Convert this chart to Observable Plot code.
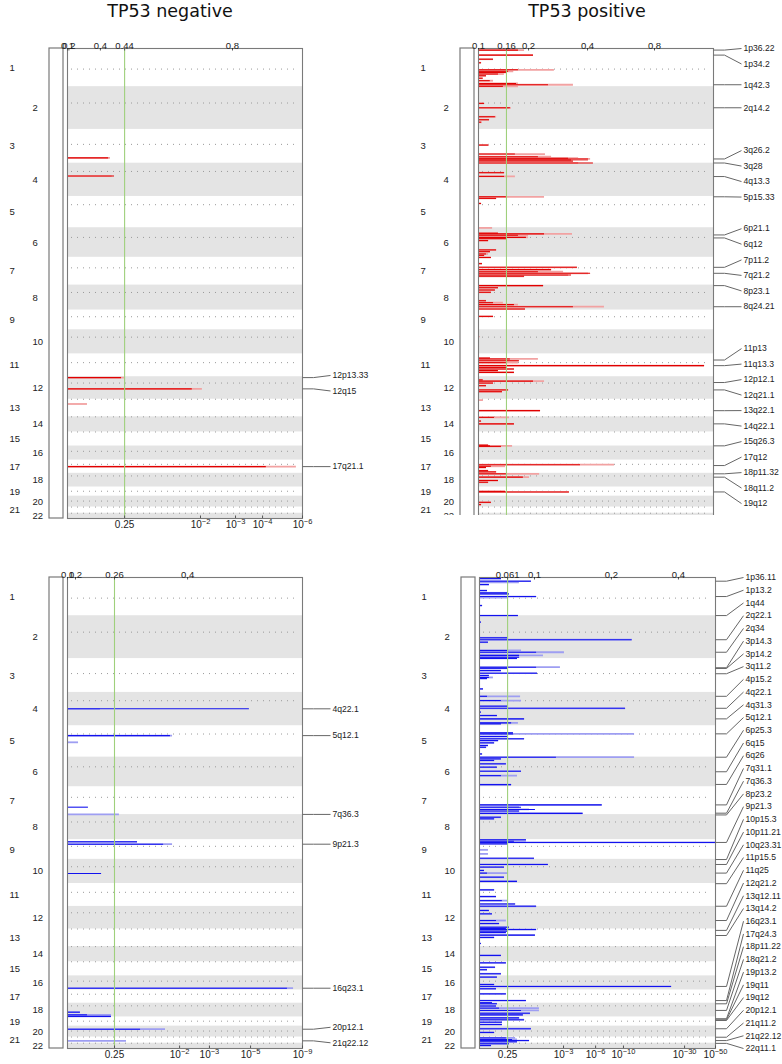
<!DOCTYPE html>
<html><head><meta charset="utf-8">
<script src="https://cdn.jsdelivr.net/npm/d3@7"></script>
<script src="https://cdn.jsdelivr.net/npm/@observablehq/plot@0.6"></script>
<style>
body{margin:0;background:#fff;}
#root{position:relative;width:782px;height:1064px;overflow:hidden;background:#fff;}
.panel{position:absolute;}
.panel svg{overflow:visible;display:block;}
.title{position:absolute;top:0;font-family:"DejaVu Sans",sans-serif;font-size:17.5px;color:#111;transform:translateX(-50%);white-space:nowrap;line-height:22px;}
</style></head><body><div id="root"></div>
<script>
// ---------- chromosome layout (effective lengths, Mb) ----------
const chromosomes = ["1","2","3","4","5","6","7","8","9","10","11","12","13","14","15","16","17","18","19","20","21","22"];
const chromLength = [217,243,192,189,178,168,158,142,112,137,130,128,100,86,80,80,75,78,52,62,35,30];
const centromere  = [117,93,85,47,47,55,60,42,38,42,50,36,0,0,0,30,24,15,24,28,0,0];

// ---------- TP53 negative, amplifications: [chrom, position, q-value bar, G-score bar] ----------
const negAmpSegments = [
  [3,162,17.5,18.3],[4,73,20.0,19.0],[12,5,23.0,24.3],[12,69,53.1,57.4],[13,27,0,8.5],[17,37,84.6,97.4]
];
const negAmpLabels = [["12p13.33",12,5],["12q15",12,69],["17q21.1",17,37]];
const negAmpTopTicks = [["0.1",0],["0.2",0.6],["0.4",14.0],["0.44",24.3],["0.8",70.2]];
const negAmpBottomTicks = [["0.25",24.3],["10\u207B\u00B2",56.6],["10\u207B\u00B3",71.5],["10\u207B\u2074",83.0],["10\u207B\u2076",100]];

// ---------- TP53 positive, amplifications ----------
const posAmpSegments = [
  [1,9,17.0,19.6],[1,37.5,23.4,23.4],[1,61,6.4,6.4],[1,81,1.3,1.3],[1,121,17.0,32.3],[1,129.5,12.8,15.0],
  [1,136,11.9,11.9],[1,145,8.5,11.0],[1,155,3.4,3.4],[1,169,2.0,2.0],[1,183,5.0,6.4],[1,199,16.2,17.0],
  [1,206,29.8,40.4],[1,215,10.6,17.0],
  [2,95,2.6,2.6],[2,120,13.6,14.0],[2,171,7.2,7.7],[2,188,4.7,4.7],[2,202,1.3,1.7],
  [3,89,4.3,4.7],[3,140,15.7,28.5],[3,155,25.5,31.1],[3,164,38.3,42.6],[3,168,46.8,47.7],[3,174,39.6,46.8],
  [3,180,40.4,40.4],[3,191,48.9,42.6],
  [4,54,11.1,11.1],[4,75,11.1,15.7],
  [5,2,11.9,28.1],[5,11,7.7,7.7],[5,40,1.3,1.3],
  [6,1,0,6.0],[6,31,8.5,8.5],[6,35,28.1,40.0],[6,43,17.0,21.3],[6,55,20.4,21.3],[6,62,11.9,11.9],[6,73,4.3,4.3],
  [6,126,7.7,7.7],[6,136,5.1,5.1],[6,149,3.4,4.3],[6,157,2.6,2.6],
  [7,1,5.5,5.5],[7,36,1.7,1.7],[7,57,42.1,42.1],[7,70,31.1,31.1],[7,82,25.5,36.2],[7,91,47.7,46.8],
  [7,101,39.6,38.3],[7,108,19.6,19.6],
  [8,3,27.7,27.7],[8,15,8.5,8.5],[8,28,7.2,7.2],[8,41,5.5,5.5],[8,89,3.4,3.4],[8,100,6.4,10.6],[8,111,15.3,17.0],
  [8,123,40.4,53.6],[8,136,20.0,20.0],
  [9,36,6.4,6.4],[10,39,0.5,0.5],
  [11,24,5.1,5.1],[11,29,13.6,25.5],[11,39,17.4,17.4],[11,50,11.9,17.0],[11,67,96.2,96.2],[11,77,11.9,11.9],
  [11,86,15.3,15.3],[11,95,8.5,8.5],[11,105,15.3,15.3],
  [12,18,2.0,2.0],[12,25,23.4,28.1],[12,36,6.4,6.4],[12,51,3.4,3.4],[12,75,12.8,12.8],[12,85,10.2,10.2],
  [13,5,0,2.1],[13,65,26.4,26.4],
  [14,3,6.8,13.2],[14,24,1.3,1.3],[14,40,15.3,15.3],
  [15,75,4.3,4.3],[15,79,5.1,14.5],[16,2,9.8,9.8],
  [17,26,43.4,57.9],[17,35,5.5,11.5],[17,42,3.4,3.4],[17,60,4.3,4.3],[17,67,7.7,7.7],
  [18,3,11.9,26.0],[18,22,19.1,21.7],[18,41,8.5,8.5],[18,51,4.3,4.3],
  [19,25,11.5,11.5],[19,28,38.7,38.7],
  [20,35,5.5,5.5],[20,48,1.3,1.3]
];
const posAmpLabels = [
  ["1p36.22",1,9],["1p34.2",1,37.5],["1q42.3",1,206],["2q14.2",2,120],["3q26.2",3,168],["3q28",3,191],
  ["4q13.3",4,76],["5p15.33",5,2],["6p21.1",6,41],["6q12",6,58],["7p11.2",7,57],["7q21.2",7,91],
  ["8p23.1",8,3],["8q24.21",8,123],["11p13",11,35],["11q13.3",11,67],["12p12.1",12,33],["12q21.1",12,75],
  ["13q22.1",13,65],["14q22.1",14,40],["15q26.3",15,79],["17q12",17,31],["18p11.32",18,3],["18q11.2",18,22],
  ["19q12",19,28]
];
const posAmpTopTicks = [["0.1",0],["0.16",11.9],["0.2",21.3],["0.4",46.4],["0.8",74.9]];
const posAmpBottomTicks = [["0.25",11.9]];

// ---------- TP53 negative, deletions ----------
const negDelSegments = [
  [4,93,77.4,14.0],[5,56,43.8,44.7],[5,94,0,4.7],[7,116,8.9,0],[7,157,0,22.1],[9,12.5,29.8,29.8],
  [9,26,40.9,44.7],[10,80,14.5,0],[16,70,93.6,96.2],[18,51,5.5,5.5],[18,66,8.5,18.7],[18,75,18.7,18.7],
  [20,17.6,31.1,41.7],[21,21.6,0,25.1]
];
const negDelLabels = [["4q22.1",4,93],["5q12.1",5,56],["7q36.3",7,157],["9p21.3",9,26],["16q23.1",16,70],["20p12.1",20,17.6],["21q22.12",21,21.6]];
const negDelTopTicks = [["0.1",0],["0.2",3.4],["0.26",20.0],["0.4",51.1]];
const negDelBottomTicks = [["0.25",20.0],["10\u207B\u00B2",47.7],["10\u207B\u00B3",60.4],["10\u207B\u2075",77.9],["10\u207B\u2079",100]];

// ---------- TP53 positive, deletions ----------
const posDelSegments = [
  [1,6,9.3,9.3],[1,21,22.0,22.0],[1,28,0,16.9],[1,40,4.2,4.2],[1,74,3.4,3.4],[1,87,11.9,11.9],[1,93,12.7,12.7],
  [1,108,24.2,24.2],[1,114,0,12.3],[1,159,1.3,1.3],[1,216,16.5,16.5],
  [2,36,0.8,0.8],[2,125,12.3,12.3],[2,136,64.7,64.7],[2,150,3.8,3.8],[2,197,11.9,17.8],[2,207,24.2,36.0],
  [2,225,17.0,27.1],[2,235,17.0,17.0],[2,242,16.1,16.1],
  [3,49,24.2,34.3],[3,55,12.3,12.3],[3,68,9.3,9.3],[3,83,24.6,24.6],[3,96,4.2,4.2],[3,107,4.2,5.9],[3,113,3.4,3.4],[3,172,1.7,1.7],
  [4,22,3.4,17.4],[4,46,9.3,17.8],[4,78,12.3,12.3],[4,90,61.9,61.9],[4,112,0.8,0.8],[4,131,7.6,7.6],[4,150,19.1,19.1],
  [4,173,13.6,16.5],[4,178,9.3,9.3],
  [5,40,14.4,14.4],[5,46,14.4,65.7],[5,61,11.9,11.9],[5,74,19.1,19.1],[5,84,8.1,8.1],[5,97,6.4,6.4],[5,112,3.8,3.8],
  [5,122,3.0,3.0],[5,160,1.3,1.3],
  [6,0.5,32.6,65.7],[6,10,9.3,9.3],[6,19,6.4,6.4],[6,38,11.4,11.4],[6,57,7.6,7.6],[6,80,17.8,17.8],[6,105,9.3,16.1],[6,156,13.6,13.6],
  [7,103,52.0,52.0],[7,116,17.8,17.0],[7,129,23.7,21.2],[7,138,17.0,17.0],[7,151,43.9,43.9],
  [8,15,9.3,9.3],[8,24,6.4,6.4],
  [9,1,19.9,19.9],[9,9,14.8,19.9],[9,16,100,100],[9,24,12.3,12.3],[9,58,0,3.8],[9,81,0,3.8],[9,106,23.3,23.3],
  [10,29,29.2,29.2],[10,44,10.6,10.6],[10,63,2.1,2.1],[10,78,3.4,12.3],[10,101,10.6,10.6],[10,125,16.1,16.1],
  [11,36,6.4,6.4],[11,74,7.2,7.2],[11,97,9.7,11.9],[11,116,15.3,15.3],[11,129,24.2,24.2],
  [12,23,4.2,4.2],[12,42,5.5,5.5],[12,80,7.2,11.4],[12,97,8.5,8.5],[12,118,12.7,12.7],[12,125,11.4,11.4],
  [13,3,24.2,24.2],[13,12,11.9,11.9],[13,20,11.4,11.4],[13,35,23.7,23.7],[13,48,6.4,6.4],[13,82,0.8,0.8],
  [14,50,9.3,9.3],
  [15,6,11.4,11.4],[15,31,6.8,6.8],[15,45,3.4,3.4],[15,68,9.3,9.3],
  [16,7,7.6,7.6],[16,49,6.4,6.4],[16,60,81.4,81.4],[16,73,7.2,7.2],
  [17,22,11.4,11.4],[17,60,19.9,19.9],[17,72,5.5,5.5],
  [18,3,7.6,7.6],[18,16,7.2,7.2],[18,28,8.5,25.4],[18,41,17.8,25.4],[18,57,21.6,21.6],[18,66,18.6,18.6],
  [19,5,17.0,17.0],[19,16,19.1,19.1],[19,30,9.7,9.7],[19,43,9.7,9.7],
  [20,15,22.0,22.0],[20,36,6.4,6.4],
  [21,5,11.4,15.3],[21,14,14.0,16.1],[21,20,21.2,21.2],[21,27,16.1,16.1],
  [22,3,12.7,12.7],[22,13,5.1,5.1]
];
const posDelLabels = [
  ["1p36.11",1,21],["1p13.2",1,108],["1q44",1,216],["2q22.1",2,136],["2q34",2,207],["3p14.3",3,52],["3p14.2",3,56],
  ["3q11.2",3,86],["4p15.2",4,22],["4q22.1",4,90],["4q31.3",4,150],["5q12.1",5,46],["6p25.3",6,0.5],["6q15",6,83],
  ["6q26",6,155],["7q31.1",7,103],["7q36.3",7,150],["8p23.2",8,2],["9p21.3",9,16],["10p15.3",10,1],["10p11.21",10,29],
  ["10q23.31",10,78],["11p15.5",11,1],["11q25",11,129],["12q21.2",12,80],["13q12.11",13,8],["13q14.2",13,37],
  ["16q23.1",16,60],["17q24.3",17,60],["18p11.22",18,3.4],["18q21.2",18,41],["19p13.2",19,10],["19q11",19,16],
  ["19q12",19,20],["20p12.1",20,15],["21q11.2",21,1],["21q22.12",21,20],["22q11.1",22,1]
];
const posDelTopTicks = [["0.061",11.9],["0.1",23.3],["0.2",55.9],["0.4",84.3]];
const posDelBottomTicks = [["0.25",11.9],["10\u207B\u00B3",35.6],["10\u207B\u2076",49.2],["10\u207B\u00B9\u2070",61.0],["10\u207B\u00B3\u2070",86.9],["10\u207B\u2075\u2070",100]];

// ---------- derived tables ----------
const chrStart = d3.cumsum([0, ...chromLength.slice(0, -1)]);
const total = d3.sum(chromLength);
const chromTable = chromosomes.map((name, i) => ({
  name, start: chrStart[i], end: chrStart[i] + chromLength[i],
  mid: chrStart[i] + chromLength[i] / 2, cen: chrStart[i] + centromere[i], odd: i % 2 === 0
}));

function layoutLabels(peaks, lo, hi, maxGap) {
  const n = peaks.length;
  const order = d3.range(n).sort((a, b) => peaks[a] - peaks[b]);
  const gap = n > 1 ? Math.min(maxGap, (hi - lo) / (n - 1)) : maxGap;
  const place = c => {
    const k = c.members.length;
    let s = c.sum / k - (k - 1) * gap / 2;
    s = Math.max(lo, Math.min(hi - (k - 1) * gap, s));
    c.start = s;
  };
  const clusters = order.map(i => ({members: [i], sum: peaks[i]}));
  clusters.forEach(place);
  let merged = true;
  while (merged) {
    merged = false;
    for (let j = 0; j < clusters.length - 1; j++) {
      const a = clusters[j], b = clusters[j + 1];
      if (a.start + a.members.length * gap > b.start + 1e-9) {
        a.members = a.members.concat(b.members); a.sum += b.sum; place(a);
        clusters.splice(j + 1, 1); merged = true; break;
      }
    }
  }
  const out = new Array(n);
  clusters.forEach(c => c.members.forEach((m, k) => out[m] = c.start + k * gap));
  return out;
}

function leaderCurve(context) {
  let pts = [];
  return {
    areaStart() {}, areaEnd() {},
    lineStart() { pts = []; },
    point(x, y) { pts.push([+x, +y]); },
    lineEnd() {
      if (pts.length < 2) return;
      const [[x0, y0], [x1, y1]] = pts;
      context.moveTo(x0, y0);
      context.lineTo(x0 + 11, y0);
      context.lineTo(x1 + 28, y1);
    }
  };
}

// turn "10⁻²" style labels into "10" + raised exponent
const SUP = {"\u207B": "\u2212", "\u2070": "0", "\u00B9": "1", "\u00B2": "2", "\u00B3": "3", "\u2074": "4", "\u2075": "5", "\u2076": "6", "\u2077": "7", "\u2078": "8", "\u2079": "9"};
function raiseExponents(svg) {
  svg.querySelectorAll("text").forEach(t => {
    if (t.children.length) return;
    const m = t.textContent.match(/^10([\u207B\u2070\u00B9\u00B2\u00B3\u2074-\u2079]+)$/);
    if (!m) return;
    const exp = [...m[1]].map(ch => SUP[ch]).join("");
    t.textContent = "10";
    const ts = document.createElementNS("http://www.w3.org/2000/svg", "tspan");
    ts.setAttribute("dy", "-4.5");
    ts.setAttribute("font-size", "7.5");
    ts.textContent = exp;
    t.appendChild(ts);
  });
}

const FONT = "Liberation Sans, Arial, sans-serif";

function panel(cfg) {
  const {segments, labels, topTicks, bottomTicks, showBottom = true, dark, light, marginLeft, marginRight, marginTop, marginBottom, height} = cfg;
  const frameH = height - marginTop - marginBottom;
  const segs = segments.map(([c, p, d, l]) => ({g: chrStart[c - 1] + p, dark: d, light: l}));
  const peaks = labels.map(([t, c, p]) => chrStart[c - 1] + p);
  const gapG = 15.5 * total / frameH;
  const ly = layoutLabels(peaks, 0, total, gapG);
  const labs = labels.map(([t], i) => ({text: t, peak: peaks[i], ly: ly[i]}));
  const thresh = bottomTicks[0][1];
  const svg = Plot.plot({
    width: 391, height, marginLeft, marginRight, marginTop, marginBottom,
    style: {fontFamily: FONT, fontSize: "9px", background: "transparent", overflow: "visible"},
    x: {domain: [0, 100], axis: null},
    y: {domain: [0, total], reverse: true, axis: null},
    marks: [
      // ideogram box
      Plot.rect([0], {x1: 0, x2: 0, y1: 0, y2: total, insetLeft: -18, insetRight: 4, fill: "white", stroke: "#7a7a7a", strokeWidth: 1.2}),
      // chromosome bands
      Plot.rect(chromTable.filter(d => !d.odd), {x1: 0, x2: 100, y1: "start", y2: "end", fill: "#e4e4e4"}),
      Plot.ruleY(chromTable, {y: "cen", stroke: "#9a9a9a", strokeDasharray: "1,5", insetLeft: 4, insetRight: 4}),
      // chromosome names
      Plot.text(chromTable.filter(d => d.odd), {y: "mid", text: "name", frameAnchor: "left", dx: -58, fill: "#222", fontSize: 9.5}),
      Plot.text(chromTable.filter(d => !d.odd), {y: "mid", text: "name", frameAnchor: "left", dx: -35, fill: "#222", fontSize: 9.5}),
      // score bars
      Plot.ruleY(segs.filter(d => d.light > 0), {y: "g", x1: 0, x2: "light", stroke: light, strokeWidth: 1.8}),
      Plot.ruleY(segs.filter(d => d.dark > 0), {y: "g", x1: 0, x2: "dark", stroke: dark, strokeWidth: 1.1}),
      // threshold
      Plot.ruleX([thresh], {stroke: "#9fd07c", strokeWidth: 1.1}),
      Plot.ruleX([0], {stroke: dark, strokeOpacity: 0.55, strokeWidth: 1}),
      Plot.frame({stroke: "#7a7a7a", strokeWidth: 1.1}),
      // top axis
      Plot.tickX(topTicks, {x: d => d[1], insetBottom: frameH - 2.5, stroke: "#555"}),
      Plot.text(topTicks, {x: d => d[1], text: d => d[0], frameAnchor: "top", dy: -6.5, fill: "#222", fontSize: 9.5}),
      // bottom axis
      showBottom ? Plot.tickX(bottomTicks, {x: d => d[1], insetTop: frameH - 2.5, stroke: "#555"}) : null,
      showBottom ? Plot.text(bottomTicks, {x: d => d[1], text: d => d[0], frameAnchor: "bottom", dy: 9.5, fill: "#222", fontSize: 10}) : null,
      // peak labels
      Plot.link(labs, {x1: 100, x2: 100, y1: "peak", y2: "ly", curve: leaderCurve, stroke: "#666", strokeWidth: 1}),
      Plot.text(labs, {y: "ly", text: "text", frameAnchor: "right", dx: 30, textAnchor: "start", fill: "#222", fontSize: 8.6})
    ]
  });
  raiseExponents(svg);
  return svg;
}

const root = document.getElementById("root");
function place(node, left, top, clipHeight) {
  const div = document.createElement("div");
  div.className = "panel";
  div.style.left = left + "px"; div.style.top = top + "px";
  if (clipHeight) { div.style.height = clipHeight + "px"; div.style.overflow = "hidden"; div.style.width = "391px"; }
  div.appendChild(node); root.appendChild(div);
}
function title(text, x) {
  const t = document.createElement("div");
  t.className = "title"; t.textContent = text; t.style.left = x + "px";
  root.appendChild(t);
}

const RED = "#e00000", PINK = "#f2a2a2", BLUE = "#1212ee", LAV = "#9e9ef2";

place(panel({segments: negAmpSegments, labels: negAmpLabels, topTicks: negAmpTopTicks, bottomTicks: negAmpBottomTicks,
  dark: RED, light: PINK, marginLeft: 67, marginRight: 89, marginTop: 48, marginBottom: 22, height: 540}), 0, 0);
place(panel({segments: posAmpSegments, labels: posAmpLabels, topTicks: posAmpTopTicks, bottomTicks: posAmpBottomTicks, showBottom: false,
  dark: RED, light: PINK, marginLeft: 87, marginRight: 69, marginTop: 48, marginBottom: 22, height: 540}), 391, 0, 515);
place(panel({segments: negDelSegments, labels: negDelLabels, topTicks: negDelTopTicks, bottomTicks: negDelBottomTicks,
  dark: BLUE, light: LAV, marginLeft: 67, marginRight: 89, marginTop: 37, marginBottom: 16, height: 524}), 0, 540);
place(panel({segments: posDelSegments, labels: posDelLabels, topTicks: posDelTopTicks, bottomTicks: posDelBottomTicks,
  dark: BLUE, light: LAV, marginLeft: 88, marginRight: 67, marginTop: 37, marginBottom: 16, height: 524}), 391, 540);

title("TP53 negative", 170);
title("TP53 positive", 587);
</script></body></html>
